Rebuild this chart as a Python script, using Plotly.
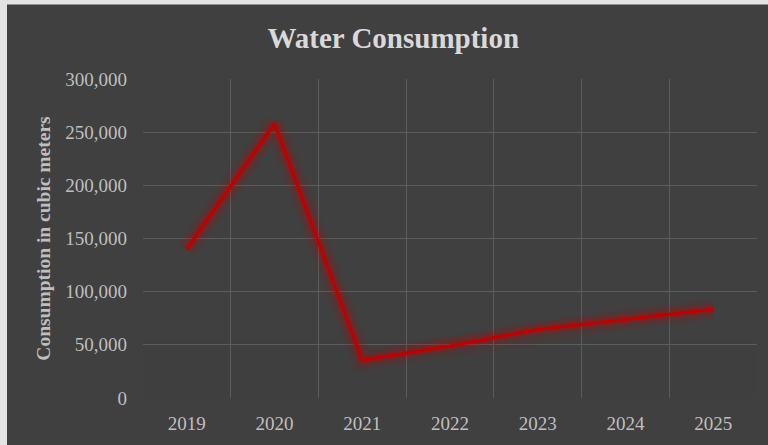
import plotly.graph_objects as go

years = ["2019", "2020", "2021", "2022", "2023", "2024", "2025"]
consumption = [140000, 258000, 35500, 49000, 64500, 74000, 83500]
y_ticks = [0, 50000, 100000, 150000, 200000, 250000, 300000]
y_tick_labels = ["0", "50,000", "100,000", "150,000", "200,000", "250,000", "300,000"]

xpos = list(range(len(years)))

W, H = 768, 445
ml, mr, mt, mb = 143, 11, 79, 45
pw, ph = W - ml - mr, H - mt - mb

fig = go.Figure()

# glow layers
for w, a in [(22, 0.05), (16, 0.08), (11, 0.12), (7, 0.22)]:
    fig.add_trace(go.Scatter(x=xpos, y=consumption, mode="lines",
                             line=dict(color=f"rgba(200,0,0,{a})", width=w),
                             hoverinfo="skip", showlegend=False))
fig.add_trace(go.Scatter(x=xpos, y=consumption, mode="lines",
                         line=dict(color="#c00000", width=3),
                         showlegend=False))

font_family = "Liberation Serif"

shapes = [dict(type="rect", xref="paper", yref="paper",
               x0=(7 - ml) / pw, x1=(W + 5 - ml) / pw,
               y0=-(mb + 5) / ph, y1=(mt - 4) / ph + 1,
               fillcolor="#404040", line=dict(width=0), layer="below")]
# gradient fade of gridlines toward the bottom
for top, op in [(130000, 0.2), (90000, 0.25), (55000, 0.3), (25000, 0.45)]:
    shapes.append(dict(type="rect", xref="paper", yref="y", x0=0, x1=1, y0=0, y1=top,
                       fillcolor="#404040", opacity=op, line=dict(width=0), layer="between"))

fig.update_layout(
    width=W, height=H,
    margin=dict(l=ml, r=mr, t=mt, b=mb),
    paper_bgcolor="#e3e3e3",
    plot_bgcolor="rgba(0,0,0,0)",
    title=dict(text="<b>Water Consumption</b>", x=0.512, xanchor="center",
               y=1 - 38 / H, yanchor="middle",
               font=dict(family=font_family, size=29, color="#d9d9d9")),
    font=dict(family=font_family, color="#bfbfbf"),
    shapes=shapes,
)

fig.update_xaxes(
    range=[-0.5, len(years) - 0.5],
    tickmode="array", tickvals=xpos, ticktext=years,
    showgrid=False, zeroline=False, showline=False, ticks="",
    tickfont=dict(size=19, color="#bfbfbf"),
    ticklabelstandoff=12,
    minor=dict(tick0=-0.5, dtick=1, showgrid=True, gridcolor="#5c5c5c", gridwidth=1, ticks=""),
)
fig.update_yaxes(
    range=[0, 300000],
    tickmode="array", tickvals=y_ticks, ticktext=y_tick_labels,
    showgrid=True, gridcolor="#5c5c5c", gridwidth=1,
    zeroline=False, showline=False, ticks="",
    tickfont=dict(size=19, color="#bfbfbf"),
    ticklabelstandoff=15,
    title=dict(text="<b>Consumption in cubic meters</b>", standoff=9,
               font=dict(size=19.5, color="#bfbfbf")),
)

fig.write_html("out.html", config={"displayModeBar": False},
               post_script="document.body.style.margin='0';")
